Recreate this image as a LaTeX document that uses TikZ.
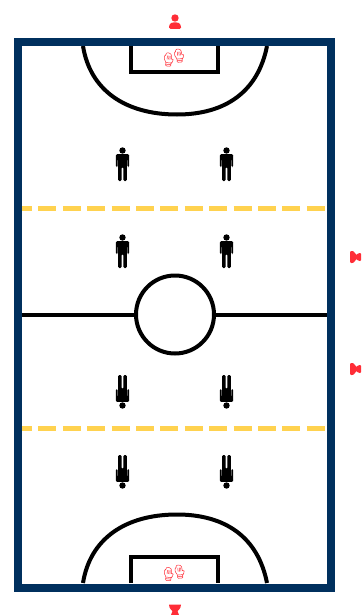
\documentclass[tikz,border=0pt]{standalone}
\definecolor{navy}{HTML}{00305E}
\definecolor{gold}{HTML}{FFD24F}
\definecolor{redp}{HTML}{FF2D37}
\tikzset{
  x=1pt,y=-1pt,
  court/.style={line width=4pt,draw=black},
  midline/.style={line width=5pt,draw=gold,dash pattern=on 18pt off 6.4pt,dash phase=8pt},
  player/.pic={
    \fill (0,-13.5) circle (3.2);
    \fill[rounded corners=1pt] (-6.5,-9.5) rectangle (6.5,-8) -- cycle;
    \fill[rounded corners=1.2pt] (-6.6,-9.8) -- (6.6,-9.8) -- (6.6,3) -- (4.8,3) -- (4.8,-5) -- (4.4,-5) -- (4.4,17) -- (0.9,17) -- (0.9,3) -- (-0.9,3) -- (-0.9,17) -- (-4.4,17) -- (-4.4,-5) -- (-4.8,-5) -- (-4.8,3) -- (-6.6,3) -- cycle;
  },
  glove/.pic={
    \draw[redp,line width=.5pt,rounded corners=.8pt,fill=white]
      (-3,7) -- (-3,3) -- (-5,0) -- (-5,-4) -- (-3.6,-4) -- (-3.6,-6.5) -- (-1.5,-7) -- (.5,-6.5) -- (2,-5.5) -- (2.6,0) -- (4.6,-1) -- (3.6,3) -- (2.4,3.5) -- (2.4,7) -- cycle;
    \draw[redp,line width=.5pt] (-3,3.5) -- (2.4,3.5) (-3,5.2) -- (2.4,5.2) (-2,-4) -- (-2,0) (-.4,-4) -- (-.4,0) (1,-4) -- (1,0);
  },
}
\begin{document}
\begin{tikzpicture}
\useasboundingbox[fill=white] (0,0) rectangle (361,615);
% goal boxes and arcs
\draw[court] (131,46) -- (131,72.5) -- (218,72.5) -- (218,46);
\draw[court] (131,583) -- (131,557) -- (218,557) -- (218,583);
\draw[court] (83,46) .. controls (90,90) and (125,114.5) .. (177,114.5) .. controls (225,114.5) and (258,92) .. (267,46);
\draw[court] (83,583) .. controls (90,539) and (125,514.5) .. (177,514.5) .. controls (225,514.5) and (258,537) .. (267,583);
% centre
\draw[court] (22,314.5) -- (327,314.5);
\draw[court,fill=white] (175,314.5) circle (39);
% midfield dashed lines
\draw[midline] (22,208) -- (327,208);
\draw[midline] (22,428.5) -- (327,428.5);
% frame
\draw[navy,line width=8pt] (18,42) rectangle (331,587.5);
% players
\foreach \x in {122.5,226.5}{
  \pic at (\x,164) {player};
  \pic at (\x,251) {player};
  \pic[yscale=-1] at (\x,392) {player};
  \pic[yscale=-1] at (\x,472) {player};
}
% gloves
\pic[scale=.95,rotate=-5] at (169,59.5) {glove};
\pic[scale=.95,rotate=5] at (179.5,55.5) {glove};
\pic[scale=.95,rotate=-5] at (169,574) {glove};
\pic[scale=.95,rotate=5] at (180,571.5) {glove};
% outside figures
\fill[redp] (175,18) circle (3.7);
\fill[redp,rounded corners=1.5pt] (169,29) -- (169,26.5) .. controls (170,23) and (172,22.5) .. (175,22.5) .. controls (178,22.5) and (180,23) .. (181,26.5) -- (181,29) -- cycle;
\fill[redp] (175,608) ++(-6,-3.5) -- ++(12,0) .. controls (181,609) and (178,610) .. (177.5,611) -- (179,615) -- (171,615) -- (172.5,611) .. controls (172,610) and (169,609) .. (169,604.5) -- cycle;
\foreach \y in {257,369}{
  \fill[redp,rounded corners=1pt] (350,\y-6) -- (352.5,\y-6) .. controls (355,\y-5) and (356,\y-2) .. (356,\y-1.5) .. controls (357,\y-3) and (359,\y-4) .. (361,\y-4) -- (361,\y+4) .. controls (359,\y+4) and (357,\y+3) .. (356,\y+1.5) .. controls (356,\y+2) and (355,\y+5) .. (352.5,\y+6) -- (350,\y+6) -- cycle;
}
\end{tikzpicture}
\end{document}
